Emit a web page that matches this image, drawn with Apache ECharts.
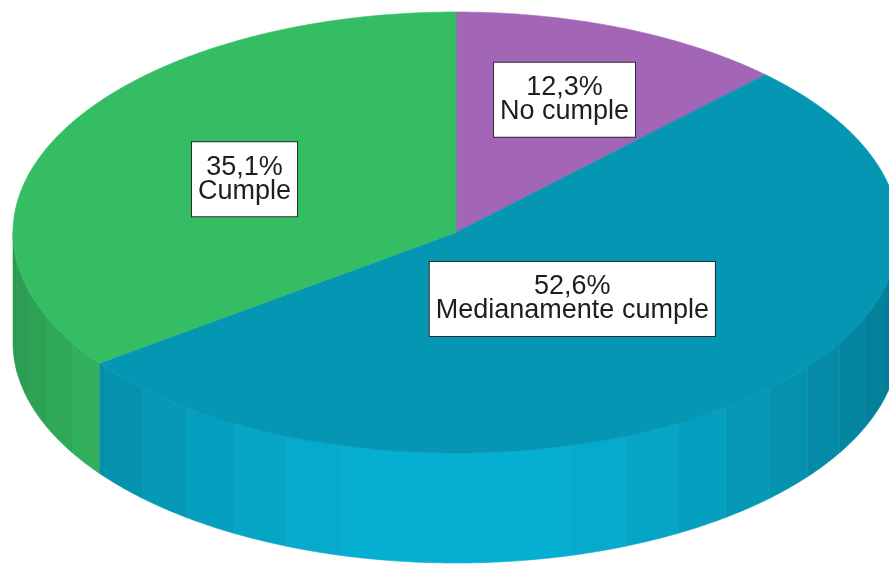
<!DOCTYPE html>
<html><head><meta charset="utf-8">
<script src="https://cdn.jsdelivr.net/npm/echarts@6/dist/echarts.min.js"></script>
<style>html,body{margin:0;padding:0;background:#fff}#c{width:889px;height:564px}</style>
</head><body><div id="c"></div>
<script>
// ---- data ----
const categories = ['No cumple', 'Medianamente cumple', 'Cumple'];
const values = [12.3, 52.6, 35.1];
const pctLabels = ['12,3%', '52,6%', '35,1%'];

// ---- style / layout ----
const topColors = ['#A366B6', '#0596B4', '#35BD63'];
const GEOM = { cx: 456, cy: 232.5, rx: 443, ry: 220.5, depth: 110 };
const LABEL_R = [0.65, 0.40, 0.535];
const STRIP = 7.5 * Math.PI / 180;

const total = values.reduce((a, b) => a + b, 0);
const starts = [];
(function () { let acc = 0; values.forEach(v => { starts.push(acc / total * 2 * Math.PI); acc += v; }); })();

function shade(hex, f) {
  const n = parseInt(hex.slice(1), 16);
  const r = Math.min(255, Math.round(((n >> 16) & 255) * f));
  const g = Math.min(255, Math.round(((n >> 8) & 255) * f));
  const b = Math.min(255, Math.round((n & 255) * f));
  return 'rgb(' + r + ',' + g + ',' + b + ')';
}
function pt(t, dy) {
  return [GEOM.cx + GEOM.rx * Math.sin(t), GEOM.cy - GEOM.ry * Math.cos(t) + (dy || 0)];
}
function arc(a, b, dy, reverse) {
  const n = Math.max(2, Math.ceil((b - a) / (0.5 * Math.PI / 180)));
  const out = [];
  for (let k = 0; k <= n; k++) out.push(pt(a + (b - a) * k / n, dy));
  return reverse ? out.reverse() : out;
}

function renderItem(params, api) {
  const i = params.dataIndex;
  const v = api.value(1);
  const a0 = starts[i];
  const a1 = a0 + v / total * 2 * Math.PI;
  const col = topColors[i];
  const children = [];
  // top face
  const topPts = [[GEOM.cx, GEOM.cy]].concat(arc(a0, a1, 0));
  children.push({ type: 'polygon', shape: { points: topPts }, style: { fill: col, stroke: col, lineWidth: 0.6 }, z2: 10 });
  // visible wall (front half)
  const w0 = Math.max(a0, Math.PI / 2), w1 = Math.min(a1, 3 * Math.PI / 2);
  if (w1 > w0) {
    let s = w0;
    while (s < w1 - 1e-9) {
      const e = Math.min(w1, (Math.floor(s / STRIP + 1e-9) + 1) * STRIP);
      const mid = (s + e) / 2;
      const c = Math.cos(mid - Math.PI);
      const f = 0.82 + 0.35 * c * c;
      const fill = shade(col, f);
      const p = arc(s, e, 0).concat(arc(s, e, GEOM.depth, true));
      children.push({ type: 'polygon', shape: { points: p }, style: { fill: fill, stroke: fill, lineWidth: 0.6 }, z2: 5 });
      s = e;
    }
  }
  // label
  const am = (a0 + a1) / 2;
  const lr = LABEL_R[i];
  const lx = GEOM.cx + GEOM.rx * lr * Math.sin(am);
  const ly = GEOM.cy - GEOM.ry * lr * Math.cos(am);
  children.push({
    type: 'text', z2: 100,
    x: lx, y: ly,
    style: {
      text: pctLabels[i] + '\n' + categories[i],
      fill: '#1e1e1e',
      font: '27px "Liberation Sans", Arial, sans-serif',
      lineHeight: 24,
      align: 'center', verticalAlign: 'middle',
      backgroundColor: '#ffffff',
      borderColor: '#2a2a2a', borderWidth: 1,
      padding: [13, 6, 13, 6]
    }
  });
  return { type: 'group', children: children };
}

const chart = echarts.init(document.getElementById('c'), null, { renderer: 'canvas' });
chart.setOption({
  animation: false,
  backgroundColor: '#ffffff',
  series: [{
    type: 'custom',
    coordinateSystem: 'none',
    renderItem: renderItem,
    data: values.map((v, i) => [i, v])
  }]
});
</script></body></html>
